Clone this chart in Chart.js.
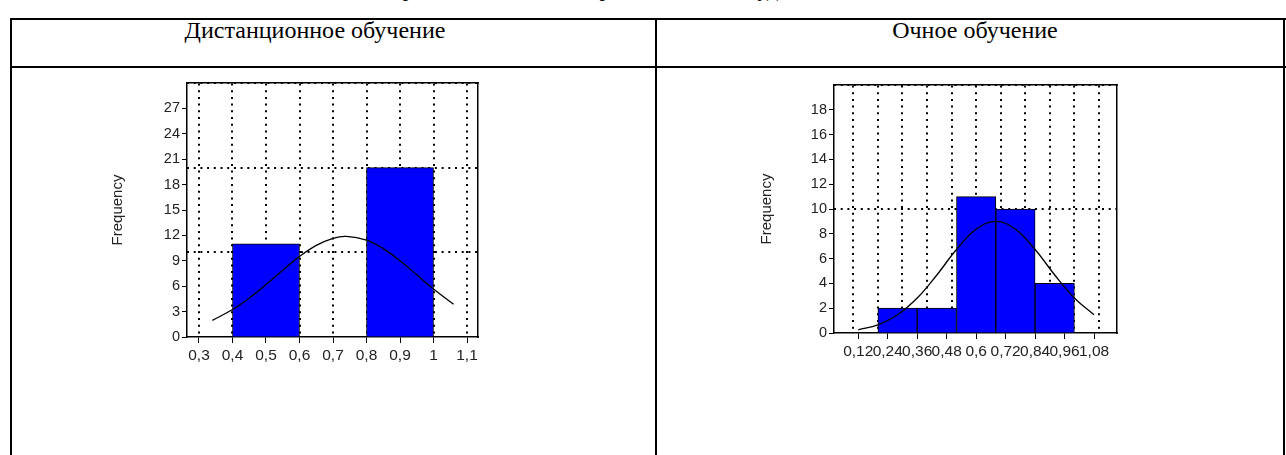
<!DOCTYPE html>
<html>
<head>
<meta charset="utf-8">
<script src="https://cdn.jsdelivr.net/npm/chart.js@4.4.1/dist/chart.umd.min.js"></script>
<style>
  body { margin: 0; width: 1286px; height: 455px; overflow: hidden; background: #fff; position: relative;
         font-family: "Liberation Serif", "Times New Roman", serif; color: #000; }
  .line { position: absolute; background: #000; }
  .txt { position: absolute; font-size: 22px; line-height: 22px; white-space: nowrap; }
  canvas { position: absolute; }
</style>
</head>
<body>
  <div class="txt" style="left:388px; top:-22px;">Сравнительные гистограммы баллов студентов</div>

  <!-- table -->
  <div class="line" style="left:10px; top:18px; width:1276px; height:2px;"></div>
  <div class="line" style="left:10px; top:66px; width:1276px; height:2px;"></div>
  <div class="line" style="left:10px; top:18px; width:2px; height:437px;"></div>
  <div class="line" style="left:655px; top:18px; width:2px; height:437px;"></div>
  <div class="line" style="left:1283px; top:18px; width:2px; height:437px;"></div>

  <div class="txt" style="left:12px; width:606px; text-align:center; top:19px; font-size:24px;">Дистанционное обучение</div>
  <div class="txt" style="left:657px; width:636px; text-align:center; top:19px; font-size:24px;">Очное обучение</div>

  <canvas id="dist-hist" width="400" height="310" style="left:100px; top:70px;"></canvas>
  <canvas id="och-hist" width="420" height="310" style="left:740px; top:70px;"></canvas>

<script>
//
// Histograms
//

// Дистанционное обучение
var distBinCenters = [0.5, 0.7, 0.9];
var distCounts = [11, 0, 20];
var distCurveX = [0.34, 0.40, 0.45, 0.50, 0.55, 0.60, 0.65, 0.70, 0.74, 0.80, 0.85, 0.90, 0.95, 1.00, 1.06];
var distCurveY = [1.97, 3.24, 4.60, 6.19, 7.89, 9.50, 10.82, 11.66, 11.89, 11.45, 10.44, 9.01, 7.35, 5.67, 3.86];
var distXTicks = [0.3, 0.4, 0.5, 0.6, 0.7, 0.8, 0.9, 1, 1.1];
var distYTicks = [0, 3, 6, 9, 12, 15, 18, 21, 24, 27];
var distGridX = [0.3, 0.4, 0.5, 0.6, 0.7, 0.8, 0.9, 1, 1.1];
var distGridY = [10, 20, 30];

// Очное обучение
var ochBinCenters = [0.28, 0.44, 0.6, 0.76, 0.92];
var ochCounts = [2, 2, 11, 10, 4];
var ochCurveX = [0.12, 0.2, 0.28, 0.36, 0.44, 0.52, 0.6, 0.68, 0.76, 0.84, 0.92, 1.0, 1.08];
var ochCurveY = [0.26, 0.66, 1.47, 2.82, 4.68, 6.73, 8.37, 9.0, 8.37, 6.73, 4.68, 2.82, 1.47];
var ochXTicks = [0.12, 0.24, 0.36, 0.48, 0.6, 0.72, 0.84, 0.96, 1.08];
var ochYTicks = [0, 2, 4, 6, 8, 10, 12, 14, 16, 18];
var ochGridX = [0.1, 0.2, 0.3, 0.4, 0.5, 0.6, 0.7, 0.8, 0.9, 1, 1.1];
var ochGridY = [10, 20];

Chart.defaults.font.family = '"Liberation Sans", Arial, sans-serif';
Chart.defaults.color = '#222';

function comma(v) {
	return String(v).replace('.', ',');
}

function fixedTicks(list) {
	return function(scale) {
		scale.ticks = list.map(function(v) { return { value: v }; });
	};
}

function points(xs, ys) {
	return xs.map(function(x, i) { return { x: x, y: ys[i] }; });
}

// Init chart
function initHistogram(id, d) {
	var dots = [2, 4.7];

	new Chart(document.getElementById(id), {
		type: 'bar',
		data: {
			datasets: [{
				type: 'line',
				data: points(d.curveX, d.curveY),
				borderColor: '#000',
				borderWidth: 1.3,
				pointRadius: 0,
				tension: 0.4,
				fill: false,
				order: 0,
				xAxisID: 'x',
				yAxisID: 'y'
			}, {
				type: 'bar',
				data: points(d.binCenters, d.counts),
				backgroundColor: '#0000ff',
				borderColor: '#000',
				borderWidth: 1,
				barPercentage: 1,
				categoryPercentage: 1,
				grouped: false,
				order: 1,
				xAxisID: 'xb',
				yAxisID: 'y'
			}]
		},
		options: {
			responsive: false,
			animation: false,
			devicePixelRatio: 1,
			layout: { padding: d.pad },
			plugins: { legend: { display: false }, tooltip: { enabled: false } },
			scales: {
				x: {
					type: 'linear', position: 'bottom', min: d.xMin, max: d.xMax, offset: false,
					afterBuildTicks: fixedTicks(d.xTicks),
					afterFit: function(s) { s.height = d.xAxisH; },
					grid: { offset: false, drawOnChartArea: false, tickLength: 6, tickColor: '#000', tickWidth: 1 },
					border: { color: '#000', width: 1.5 },
					ticks: { callback: comma, padding: 3, font: { size: 15.5 }, maxRotation: 0, autoSkip: false }
				},
				xg: {
					type: 'linear', position: 'top', min: d.xMin, max: d.xMax, offset: false,
					afterBuildTicks: fixedTicks(d.gridX),
					afterFit: function(s) { s.height = 0; },
					ticks: { display: false },
					grid: { offset: false, drawTicks: false, color: '#000', lineWidth: 2 },
					border: { display: true, color: '#000', width: 1.5, dash: dots }
				},
				xb: {
					type: 'linear', display: false, min: d.xMin, max: d.xMax, offset: false,
					afterBuildTicks: function(s) { s.ticks = []; }
				},
				y: {
					type: 'linear', position: 'left', min: 0, max: d.yMax,
					afterBuildTicks: fixedTicks(d.yTicks),
					afterFit: function(s) { s.width = d.yAxisW; },
					grid: { drawOnChartArea: false, tickLength: 5, tickColor: '#000', tickWidth: 1 },
					border: { color: '#000', width: 1.5 },
					ticks: { callback: comma, padding: 2, font: { size: 14.5 } },
					title: { display: true, text: 'Frequency', font: { size: 15 }, padding: { top: d.titlePad, bottom: 0 } }
				},
				yg: {
					type: 'linear', position: 'right', min: 0, max: d.yMax,
					afterBuildTicks: fixedTicks(d.gridY),
					afterFit: function(s) { s.width = 0; },
					ticks: { display: false },
					grid: { drawTicks: false, color: '#000', lineWidth: 2 },
					border: { display: true, color: '#000', width: 1.5, dash: dots }
				}
			}
		}
	});
}

initHistogram('dist-hist', {
	binCenters: distBinCenters, counts: distCounts,
	curveX: distCurveX, curveY: distCurveY,
	xTicks: distXTicks, yTicks: distYTicks, gridX: distGridX, gridY: distGridY,
	xMin: 0.2642, xMax: 1.1328, yMax: 30,
	pad: { left: 0, top: 13, right: 22, bottom: 0 },
	yAxisW: 87, xAxisH: 43, titlePad: 9
});

initHistogram('och-hist', {
	binCenters: ochBinCenters, counts: ochCounts,
	curveX: ochCurveX, curveY: ochCurveY,
	xTicks: ochXTicks, yTicks: ochYTicks, gridX: ochGridX, gridY: ochGridY,
	xMin: 0.0212, xMax: 1.1735, yMax: 20,
	pad: { left: 0, top: 15, right: 43, bottom: 0 },
	yAxisW: 94, xAxisH: 47, titlePad: 17.5
});
</script>
</body>
</html>
